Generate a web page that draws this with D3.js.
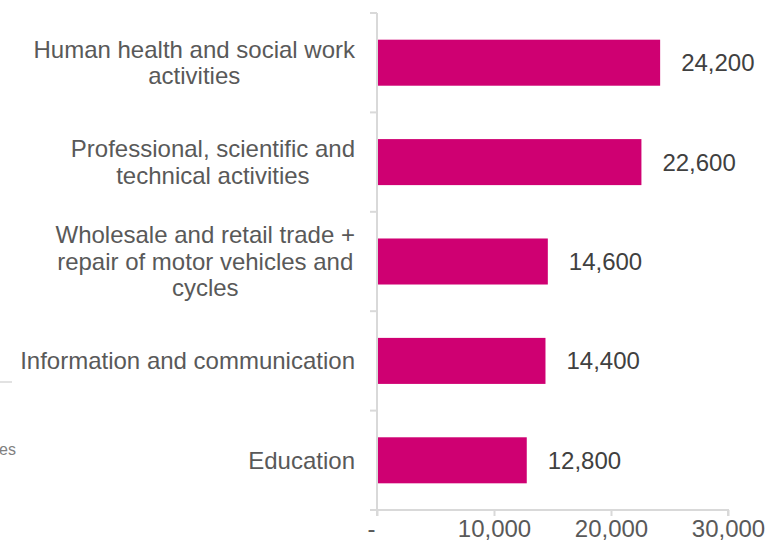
<!DOCTYPE html>
<html>
<head>
<meta charset="utf-8">
<script src="https://cdn.jsdelivr.net/npm/d3@7"></script>
<style>
  body { margin: 0; background: #ffffff; }
  text { font-family: "Liberation Sans", Arial, sans-serif; }
</style>
</head>
<body>
<div id="chart"></div>
<script>
//-------------------------------------------------------
// data
//-------------------------------------------------------
const categories = [
    "Human health and social work activities",
    "Professional, scientific and technical activities",
    "Wholesale and retail trade + repair of motor vehicles and cycles",
    "Information and communication",
    "Education"
];
// how each category label wraps
const categoryLines = [
    ["Human health and social work", "activities"],
    ["Professional, scientific and", "technical activities"],
    ["Wholesale and retail trade +", "repair of motor vehicles and", "cycles"],
    ["Information and communication"],
    ["Education"]
];
const values = [24200, 22600, 14600, 14400, 12800];
const tickValues = [0, 10000, 20000, 30000];
const tickLabels = ["-", "10,000", "20,000", "30,000"];

//-------------------------------------------------------
// properties
//-------------------------------------------------------
let properties = {
    width: 779,
    height: 548,
    plot: { left: 377, right: 728, top: 13, bottom: 510 },
    fontSize: 24,
    lineHeight: 26.5,
    color: {
        bar: "#cf0072",
        axis: "#d9d9d9",
        label: "#595959",
        value: "#404040"
    }
};

const svg = d3.select("#chart")
    .append("svg")
    .attr("width", properties.width)
    .attr("height", properties.height);

// scales
const x = d3.scaleLinear()
    .domain([0, 30000])
    .range([properties.plot.left, properties.plot.right]);

const y = d3.scaleBand()
    .domain(categories)
    .range([properties.plot.top, properties.plot.bottom])
    .paddingInner(0.537)
    .paddingOuter(0.537 / 2);

//-------------------------------------------------------
// axes
//-------------------------------------------------------
const axisGroup = svg.append("g").attr("id", "axes");

// vertical category axis with ticks between categories
axisGroup.append("line")
    .attr("x1", x(0)).attr("x2", x(0))
    .attr("y1", properties.plot.top).attr("y2", properties.plot.bottom)
    .attr("stroke", properties.color.axis)
    .attr("stroke-width", 2);

const boundaries = d3.range(categories.length + 1)
    .map(i => properties.plot.top + i * y.step());

axisGroup.selectAll(".ytick")
    .data(boundaries)
    .enter()
    .append("line")
    .attr("class", "ytick")
    .attr("x1", x(0) - 7).attr("x2", x(0))
    .attr("y1", d => d).attr("y2", d => d)
    .attr("stroke", properties.color.axis)
    .attr("stroke-width", 2);

// bottom value axis
const xAxis = d3.axisBottom(x)
    .tickValues(tickValues)
    .tickSize(6)
    .tickFormat((d, i) => tickLabels[i]);

const xAxisGroup = axisGroup.append("g")
    .attr("transform", `translate(0,${properties.plot.bottom})`)
    .call(xAxis);

xAxisGroup.select(".domain")
    .attr("stroke", properties.color.axis)
    .attr("stroke-width", 2)
    .attr("d", `M${x(0)},6V0H${x(30000)}V6`);

xAxisGroup.selectAll(".tick line")
    .attr("stroke", properties.color.axis)
    .attr("stroke-width", 2);

xAxisGroup.selectAll(".tick text")
    .attr("fill", properties.color.label)
    .attr("font-size", properties.fontSize)
    .attr("font-family", "Liberation Sans, Arial, sans-serif")
    .attr("dy", null)
    .attr("y", 27)
    .attr("dx", (d, i) => i === 0 ? -6 : 0);

//-------------------------------------------------------
// bars
//-------------------------------------------------------
const barGroup = svg.append("g").attr("id", "bars");

barGroup.selectAll("rect")
    .data(values)
    .enter()
    .append("rect")
    .attr("x", x(0) + 1)
    .attr("y", (d, i) => y(categories[i]))
    .attr("width", d => x(d) - x(0) - 1)
    .attr("height", y.bandwidth())
    .attr("fill", properties.color.bar);

// value labels
barGroup.selectAll("text")
    .data(values)
    .enter()
    .append("text")
    .attr("x", d => x(d) + 21)
    .attr("y", (d, i) => y(categories[i]) + y.bandwidth() / 2)
    .attr("dy", "0.35em")
    .attr("font-size", properties.fontSize)
    .attr("fill", properties.color.value)
    .text(d => d3.format(",")(d));

//-------------------------------------------------------
// category labels (centred lines, block right-aligned)
//-------------------------------------------------------
const labelGroup = svg.append("g").attr("id", "labels");
const labelRight = 355;

categoryLines.forEach((lines, i) => {
    const center = y(categories[i]) + y.bandwidth() / 2;
    const g = labelGroup.append("g");
    const texts = g.selectAll("text")
        .data(lines)
        .enter()
        .append("text")
        .attr("y", (d, j) => center + (j - (lines.length - 1) / 2) * properties.lineHeight)
        .attr("dy", "0.35em")
        .attr("font-size", properties.fontSize)
        .attr("fill", properties.color.label)
        .attr("text-anchor", "middle")
        .text(d => d);
    let maxWidth = 0;
    texts.each(function() {
        maxWidth = Math.max(maxWidth, this.getComputedTextLength());
    });
    texts.attr("x", labelRight - maxWidth / 2);
});

//-------------------------------------------------------
// leftover fragments of a neighbouring chart at the left edge
//-------------------------------------------------------
svg.append("line")
    .attr("x1", 0).attr("x2", 12)
    .attr("y1", 382).attr("y2", 382)
    .attr("stroke", properties.color.axis)
    .attr("stroke-width", 1.5);

svg.append("text")
    .attr("x", -1)
    .attr("y", 455)
    .attr("font-size", 16)
    .attr("fill", "#808080")
    .text("es");
</script>
</body>
</html>
